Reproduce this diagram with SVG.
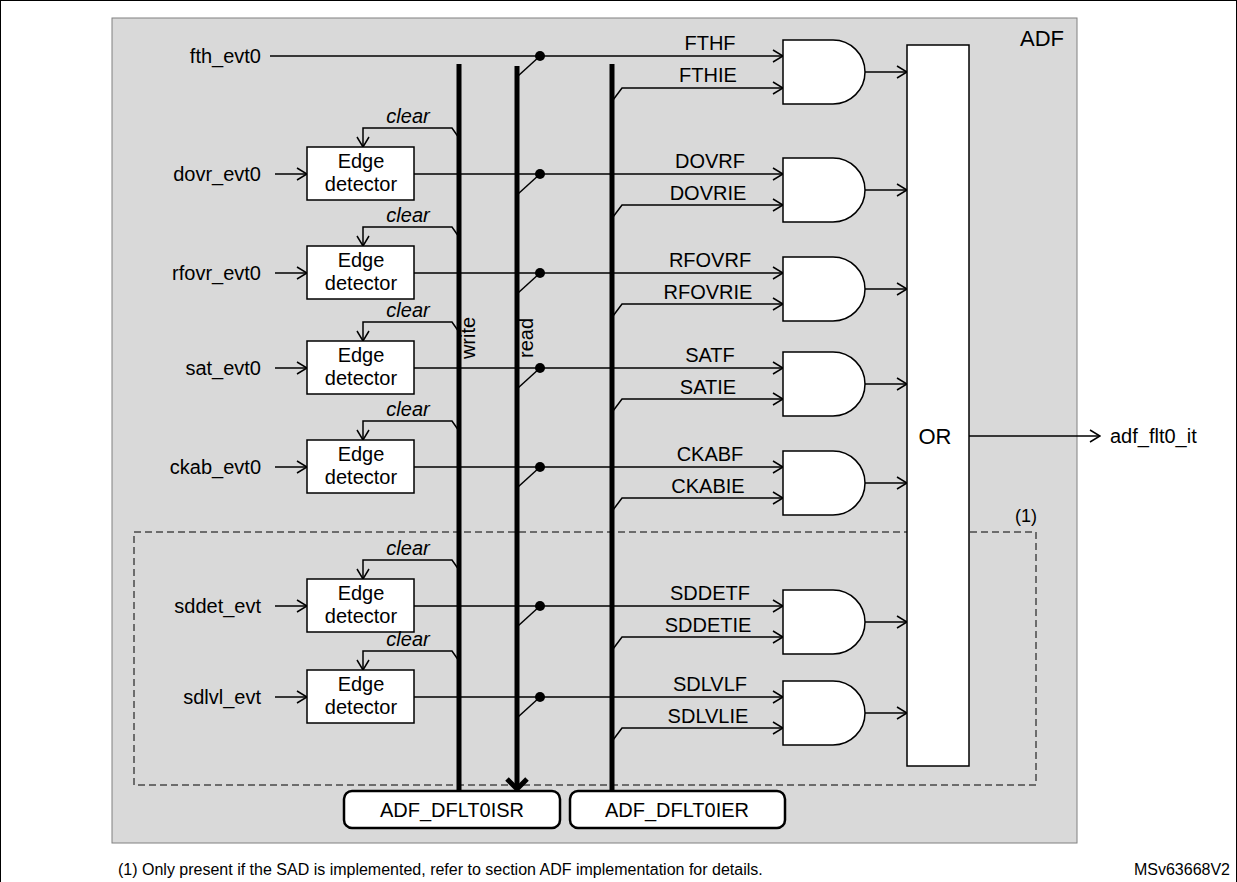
<svg xmlns="http://www.w3.org/2000/svg" width="1237" height="882" viewBox="0 0 1237 882">
<style>
text{font-family:"Liberation Sans",Arial,sans-serif;font-size:20px;fill:#000}
.w{stroke:#000;stroke-width:1.5;fill:none}
.bus{stroke:#000;stroke-width:5;fill:none}
.box{fill:#fff;stroke:#000;stroke-width:1.5}
.c{text-anchor:middle}
.r{text-anchor:end}
.i{font-style:italic}
.s{font-size:16px}
</style>
<defs>
<marker id="a" markerWidth="12" markerHeight="14" refX="11" refY="7" orient="auto" markerUnits="userSpaceOnUse"><path d="M1,1 L11,7 L1,13" fill="none" stroke="#000" stroke-width="1.5"/></marker>
<marker id="ab" markerWidth="24" markerHeight="24" refX="12" refY="20" orient="0" markerUnits="userSpaceOnUse"><path d="M2,10 L12,20 L22,10" fill="none" stroke="#000" stroke-width="5"/></marker>
</defs>
<rect x="0.5" y="0.5" width="1236" height="900" fill="#fff" stroke="#000"/>
<rect x="112" y="18" width="965" height="825" fill="#d9d9d9" stroke="#808080"/>
<text x="1020" y="46" style="font-size:22px">ADF</text>
<rect x="134" y="532" width="902" height="253" fill="none" stroke="#000" stroke-dasharray="7,4"/>
<text x="1015" y="522" style="font-size:18px">(1)</text>
<g id="connectors">
<path class="w" d="M270,56 H783" marker-end="url(#a)"/>
<path class="w" d="M540,56 L518,76"/>
<circle cx="540" cy="56" r="5"/>
<path class="w" d="M613,100 L622,88 H783" marker-end="url(#a)"/>
<path class="w" d="M865,72 H907" marker-end="url(#a)"/>
<path class="w" d="M969,436 H1100" marker-end="url(#a)"/>
<path class="bus" d="M459,64 V791"/>
<path class="bus" d="M517,66 V789" marker-end="url(#ab)"/>
<path class="bus" d="M612,64 V791"/>
</g>
<text x="261" y="63" class="r">fth_evt0</text>
<text x="710" y="50" class="c">FTHF</text>
<text x="708" y="82" class="c">FTHIE</text>
<path d="M783,40 h50 a32,32 0 0 1 0,64 h-50 z" class="box"/>
<g id="rows">
<g id="row-dovr" transform="translate(0,174)">
<path class="w" d="M275,0 H307" marker-end="url(#a)"/>
<path class="w" d="M414,0 H783" marker-end="url(#a)"/>
<path class="w" d="M540,0 L518,20"/><circle cx="540" cy="0" r="5"/>
<path class="w" d="M613,43 L622,31 H783" marker-end="url(#a)"/>
<path class="w" d="M459,-36 L452,-46 H363 V-27" marker-end="url(#a)"/>
<text x="408" y="-51" class="c i">clear</text>
<rect x="307" y="-27" width="107" height="53" class="box"/>
<text x="361" y="-6" class="c">Edge</text><text x="361" y="17" class="c">detector</text>
<text x="261" y="7" class="r">dovr_evt0</text>
<text x="710" y="-6" class="c">DOVRF</text><text x="708" y="26" class="c">DOVRIE</text>
<path d="M783,-16 h50 a32,32 0 0 1 0,64 h-50 z" class="box"/>
<path class="w" d="M865,16 H907" marker-end="url(#a)"/>
</g>
<g id="row-rfovr" transform="translate(0,273)">
<path class="w" d="M275,0 H307" marker-end="url(#a)"/>
<path class="w" d="M414,0 H783" marker-end="url(#a)"/>
<path class="w" d="M540,0 L518,20"/><circle cx="540" cy="0" r="5"/>
<path class="w" d="M613,43 L622,31 H783" marker-end="url(#a)"/>
<path class="w" d="M459,-36 L452,-46 H363 V-27" marker-end="url(#a)"/>
<text x="408" y="-51" class="c i">clear</text>
<rect x="307" y="-27" width="107" height="53" class="box"/>
<text x="361" y="-6" class="c">Edge</text><text x="361" y="17" class="c">detector</text>
<text x="261" y="7" class="r">rfovr_evt0</text>
<text x="710" y="-6" class="c">RFOVRF</text><text x="708" y="26" class="c">RFOVRIE</text>
<path d="M783,-16 h50 a32,32 0 0 1 0,64 h-50 z" class="box"/>
<path class="w" d="M865,16 H907" marker-end="url(#a)"/>
</g>
<g id="row-sat" transform="translate(0,368)">
<path class="w" d="M275,0 H307" marker-end="url(#a)"/>
<path class="w" d="M414,0 H783" marker-end="url(#a)"/>
<path class="w" d="M540,0 L518,20"/><circle cx="540" cy="0" r="5"/>
<path class="w" d="M613,43 L622,31 H783" marker-end="url(#a)"/>
<path class="w" d="M459,-36 L452,-46 H363 V-27" marker-end="url(#a)"/>
<text x="408" y="-51" class="c i">clear</text>
<rect x="307" y="-27" width="107" height="53" class="box"/>
<text x="361" y="-6" class="c">Edge</text><text x="361" y="17" class="c">detector</text>
<text x="261" y="7" class="r">sat_evt0</text>
<text x="710" y="-6" class="c">SATF</text><text x="708" y="26" class="c">SATIE</text>
<path d="M783,-16 h50 a32,32 0 0 1 0,64 h-50 z" class="box"/>
<path class="w" d="M865,16 H907" marker-end="url(#a)"/>
</g>
<g id="row-ckab" transform="translate(0,467)">
<path class="w" d="M275,0 H307" marker-end="url(#a)"/>
<path class="w" d="M414,0 H783" marker-end="url(#a)"/>
<path class="w" d="M540,0 L518,20"/><circle cx="540" cy="0" r="5"/>
<path class="w" d="M613,43 L622,31 H783" marker-end="url(#a)"/>
<path class="w" d="M459,-36 L452,-46 H363 V-27" marker-end="url(#a)"/>
<text x="408" y="-51" class="c i">clear</text>
<rect x="307" y="-27" width="107" height="53" class="box"/>
<text x="361" y="-6" class="c">Edge</text><text x="361" y="17" class="c">detector</text>
<text x="261" y="7" class="r">ckab_evt0</text>
<text x="710" y="-6" class="c">CKABF</text><text x="708" y="26" class="c">CKABIE</text>
<path d="M783,-16 h50 a32,32 0 0 1 0,64 h-50 z" class="box"/>
<path class="w" d="M865,16 H907" marker-end="url(#a)"/>
</g>
<g id="row-sddet" transform="translate(0,606)">
<path class="w" d="M275,0 H307" marker-end="url(#a)"/>
<path class="w" d="M414,0 H783" marker-end="url(#a)"/>
<path class="w" d="M540,0 L518,20"/><circle cx="540" cy="0" r="5"/>
<path class="w" d="M613,43 L622,31 H783" marker-end="url(#a)"/>
<path class="w" d="M459,-36 L452,-46 H363 V-27" marker-end="url(#a)"/>
<text x="408" y="-51" class="c i">clear</text>
<rect x="307" y="-27" width="107" height="53" class="box"/>
<text x="361" y="-6" class="c">Edge</text><text x="361" y="17" class="c">detector</text>
<text x="261" y="7" class="r">sddet_evt</text>
<text x="710" y="-6" class="c">SDDETF</text><text x="708" y="26" class="c">SDDETIE</text>
<path d="M783,-16 h50 a32,32 0 0 1 0,64 h-50 z" class="box"/>
<path class="w" d="M865,16 H907" marker-end="url(#a)"/>
</g>
<g id="row-sdlvl" transform="translate(0,697)">
<path class="w" d="M275,0 H307" marker-end="url(#a)"/>
<path class="w" d="M414,0 H783" marker-end="url(#a)"/>
<path class="w" d="M540,0 L518,20"/><circle cx="540" cy="0" r="5"/>
<path class="w" d="M613,43 L622,31 H783" marker-end="url(#a)"/>
<path class="w" d="M459,-36 L452,-46 H363 V-27" marker-end="url(#a)"/>
<text x="408" y="-51" class="c i">clear</text>
<rect x="307" y="-27" width="107" height="53" class="box"/>
<text x="361" y="-6" class="c">Edge</text><text x="361" y="17" class="c">detector</text>
<text x="261" y="7" class="r">sdlvl_evt</text>
<text x="710" y="-6" class="c">SDLVLF</text><text x="708" y="26" class="c">SDLVLIE</text>
<path d="M783,-16 h50 a32,32 0 0 1 0,64 h-50 z" class="box"/>
<path class="w" d="M865,16 H907" marker-end="url(#a)"/>
</g>
</g>
<g id="or"><rect x="907" y="45" width="62" height="721" class="box"/>
<text x="935" y="444" class="c" style="font-size:22px">OR</text></g>
<text x="1110" y="443">adf_flt0_it</text>
<text transform="translate(475,338) rotate(-90)" class="c">write</text>
<text transform="translate(533,338) rotate(-90)" class="c">read</text>
<g id="isr"><rect x="344" y="791" width="216" height="37" rx="8" class="box" style="stroke-width:2.5"/>
<text x="452" y="817" class="c">ADF_DFLT0ISR</text></g>
<g id="ier"><rect x="570" y="791" width="215" height="37" rx="8" class="box" style="stroke-width:2.5"/>
<text x="677" y="817" class="c">ADF_DFLT0IER</text></g>
<text x="118" y="875" class="s">(1) Only present if the SAD is implemented, refer to section ADF implementation for details.</text>
<text x="1230" y="875" class="r s">MSv63668V2</text>
</svg>
